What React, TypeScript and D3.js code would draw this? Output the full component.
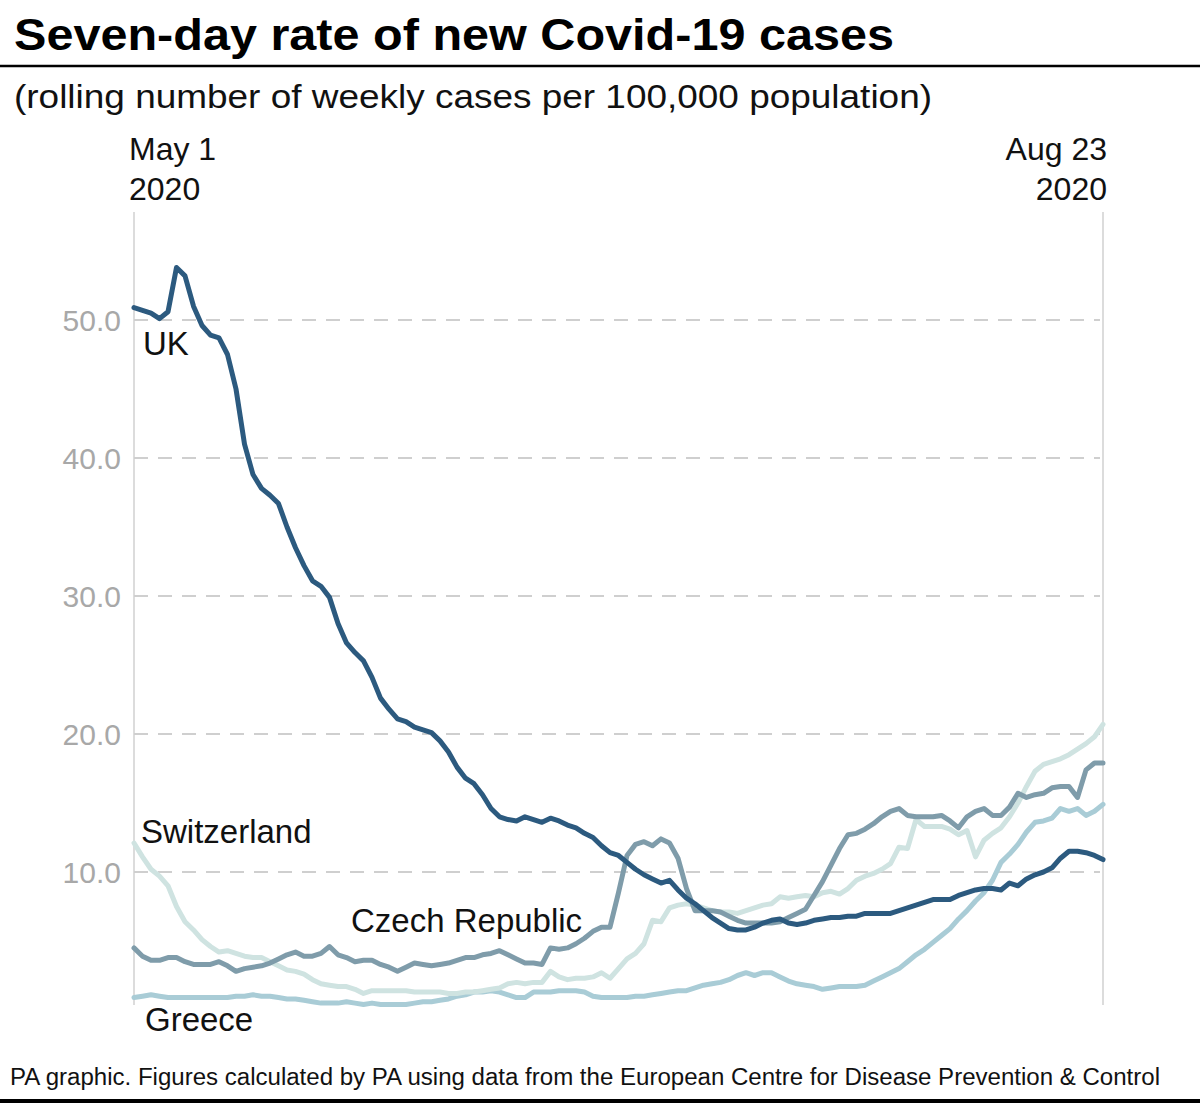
import * as d3 from 'd3';

const startDate = new Date(2020, 4, 1);
const endDate = new Date(2020, 7, 23);

const uk = [
  50.9, 50.7, 50.5, 50.1, 50.6, 53.8, 53.2, 51.0, 49.6, 48.9,
  48.7, 47.5, 45.0, 41.0, 38.8, 37.8, 37.3, 36.7, 35.0, 33.5,
  32.2, 31.1, 30.7, 29.9, 28.0, 26.6, 25.9, 25.3, 24.1, 22.6,
  21.8, 21.1, 20.9, 20.5, 20.3, 20.1, 19.5, 18.7, 17.6, 16.8,
  16.4, 15.6, 14.6, 14.0, 13.8, 13.7, 14.0, 13.8, 13.6, 13.9,
  13.7, 13.4, 13.2, 12.8, 12.5, 11.9, 11.4, 11.2, 10.7, 10.2,
  9.8, 9.5, 9.2, 9.4, 8.7, 8.1, 7.7, 7.2, 6.7, 6.3,
  5.9, 5.8, 5.8, 6.0, 6.3, 6.5, 6.6, 6.3, 6.2, 6.3,
  6.5, 6.6, 6.7, 6.7, 6.8, 6.8, 7.0, 7.0, 7.0, 7.0,
  7.2, 7.4, 7.6, 7.8, 8.0, 8.0, 8.0, 8.3, 8.5, 8.7,
  8.8, 8.8, 8.7, 9.2, 9.0, 9.5, 9.8, 10.0, 10.3, 11.0,
  11.5, 11.5, 11.4, 11.2, 10.9,
];

const czech = [
  4.5, 3.9, 3.6, 3.6, 3.8, 3.8, 3.5, 3.3, 3.3, 3.3,
  3.5, 3.2, 2.8, 3.0, 3.1, 3.2, 3.4, 3.7, 4.0, 4.2,
  3.9, 3.9, 4.1, 4.6, 4.0, 3.8, 3.5, 3.6, 3.6, 3.3,
  3.1, 2.8, 3.1, 3.4, 3.3, 3.2, 3.3, 3.4, 3.6, 3.8,
  3.8, 4.0, 4.1, 4.3, 4.0, 3.7, 3.4, 3.4, 3.3, 4.5,
  4.4, 4.5, 4.8, 5.2, 5.7, 6.0, 6.0, 8.5, 11.2, 12.0,
  12.2, 11.9, 12.4, 12.1, 11.0, 8.8, 7.2, 7.2, 7.2, 7.1,
  6.8, 6.5, 6.3, 6.3, 6.3, 6.3, 6.4, 6.7, 7.0, 7.3,
  8.3, 9.3, 10.5, 11.7, 12.7, 12.8, 13.1, 13.5, 14.0, 14.4,
  14.6, 14.1, 14.0, 14.0, 14.0, 14.1, 13.7, 13.2, 14.0, 14.4,
  14.6, 14.1, 14.1, 14.7, 15.7, 15.4, 15.6, 15.7, 16.1, 16.2,
  16.2, 15.4, 17.4, 17.9, 17.9,
];

const switzerland = [
  12.1, 11.1, 10.2, 9.7, 9.0, 7.5, 6.4, 5.8, 5.1, 4.6,
  4.2, 4.3, 4.1, 3.9, 3.8, 3.8, 3.5, 3.2, 2.9, 2.8,
  2.6, 2.2, 1.9, 1.8, 1.7, 1.7, 1.5, 1.2, 1.4, 1.4,
  1.4, 1.4, 1.4, 1.3, 1.3, 1.3, 1.3, 1.2, 1.2, 1.3,
  1.3, 1.4, 1.5, 1.6, 1.9, 2.0, 1.9, 2.0, 2.0, 2.8,
  2.4, 2.2, 2.3, 2.3, 2.4, 2.7, 2.3, 3.0, 3.7, 4.1,
  4.8, 6.5, 6.4, 7.4, 7.6, 7.7, 7.6, 7.4, 7.2, 7.1,
  7.1, 7.0, 7.2, 7.4, 7.6, 7.7, 8.2, 8.1, 8.2, 8.3,
  8.2, 8.5, 8.6, 8.4, 8.8, 9.4, 9.7, 9.9, 10.2, 10.6,
  11.8, 11.7, 13.8, 13.3, 13.3, 13.3, 13.1, 12.7, 13.0, 11.1,
  12.3, 12.8, 13.2, 14.0, 15.0, 16.2, 17.3, 17.8, 18.0, 18.2,
  18.5, 18.9, 19.3, 19.8, 20.7,
];

const greece = [
  0.9, 1.0, 1.1, 1.0, 0.9, 0.9, 0.9, 0.9, 0.9, 0.9,
  0.9, 0.9, 1.0, 1.0, 1.1, 1.0, 1.0, 0.9, 0.8, 0.8,
  0.7, 0.6, 0.5, 0.5, 0.5, 0.6, 0.5, 0.4, 0.5, 0.4,
  0.4, 0.4, 0.4, 0.5, 0.6, 0.6, 0.7, 0.8, 1.0, 1.1,
  1.3, 1.3, 1.4, 1.3, 1.1, 0.9, 0.9, 1.3, 1.3, 1.3,
  1.4, 1.4, 1.4, 1.3, 1.0, 0.9, 0.9, 0.9, 0.9, 1.0,
  1.0, 1.1, 1.2, 1.3, 1.4, 1.4, 1.6, 1.8, 1.9, 2.0,
  2.2, 2.5, 2.7, 2.5, 2.7, 2.7, 2.4, 2.1, 1.9, 1.8,
  1.7, 1.5, 1.6, 1.7, 1.7, 1.7, 1.8, 2.1, 2.4, 2.7,
  3.0, 3.5, 4.0, 4.4, 4.9, 5.4, 5.9, 6.6, 7.2, 7.9,
  8.5, 9.4, 10.7, 11.3, 12.0, 12.9, 13.6, 13.7, 13.9, 14.6,
  14.4, 14.6, 14.1, 14.4, 14.9,
];

const yTicks = [10, 20, 30, 40, 50];

const series = [
  { name: 'Greece', values: greece, color: '#a9ccd6' },
  { name: 'Switzerland', values: switzerland, color: '#cfe3e1' },
  { name: 'Czech Republic', values: czech, color: '#7f9caa' },
  { name: 'UK', values: uk, color: '#2c5a7f' },
];

const labels = [
  { text: 'UK', x: 143, y: 355 },
  { text: 'Switzerland', x: 141, y: 843 },
  { text: 'Czech Republic', x: 351, y: 932 },
  { text: 'Greece', x: 145, y: 1031 },
];

const font = "'Liberation Sans', Arial, sans-serif";

export default function App() {
  const width = 1200;
  const height = 1106;

  const x = d3.scaleTime().domain([startDate, endDate]).range([134, 1103]);
  const y = d3.scaleLinear().domain([0, 50]).range([1010, 320]);

  const dayOf = (i: number) => d3.timeDay.offset(startDate, i);

  const line = d3.line<number>()
    .x((_, i) => x(dayOf(i)))
    .y(d => y(d));

  return (
    <svg
      width={width}
      height={height}
      style={{ position: 'absolute', left: 0, top: 0, background: '#fff' }}
      fontFamily={font}
    >
      <rect width={width} height={height} fill="#fff" />

      <text x={14} y={50} fontSize={45} fontWeight="bold" fill="#000" textLength={880} lengthAdjust="spacingAndGlyphs">
        Seven-day rate of new Covid-19 cases
      </text>
      <line x1={0} x2={width} y1={66} y2={66} stroke="#000" strokeWidth={2.5} />
      <text x={14} y={108} fontSize={34} fill="#111" textLength={918} lengthAdjust="spacingAndGlyphs">
        (rolling number of weekly cases per 100,000 population)
      </text>

      <text x={129} y={160} fontSize={32} fill="#111">May 1</text>
      <text x={129} y={200} fontSize={32} fill="#111">2020</text>
      <text x={1107} y={160} fontSize={32} fill="#111" textAnchor="end">Aug 23</text>
      <text x={1107} y={200} fontSize={32} fill="#111" textAnchor="end">2020</text>

      <line x1={x(startDate)} x2={x(startDate)} y1={212} y2={1005} stroke="#dcdcdc" strokeWidth={2} />
      <line x1={x(endDate)} x2={x(endDate)} y1={212} y2={1005} stroke="#dcdcdc" strokeWidth={2} />

      {yTicks.map(t => (
        <g key={t}>
          <line
            x1={x(startDate)}
            x2={1100}
            y1={y(t)}
            y2={y(t)}
            stroke="#cfcfcf"
            strokeWidth={2}
            strokeDasharray="14 10"
          />
          <text x={121} y={y(t) + 11} fontSize={30} fill="#a8a8a8" textAnchor="end">
            {t.toFixed(1)}
          </text>
        </g>
      ))}

      {series.map(s => (
        <path
          key={s.name}
          d={line(s.values) || ''}
          fill="none"
          stroke={s.color}
          strokeWidth={5}
          strokeLinejoin="round"
          strokeLinecap="round"
        />
      ))}

      {labels.map(l => (
        <text key={l.text} x={l.x} y={l.y} fontSize={33} fill="#111">
          {l.text}
        </text>
      ))}

      <text x={10} y={1085} fontSize={23} fill="#111" textLength={1150} lengthAdjust="spacingAndGlyphs">
        PA graphic. Figures calculated by PA using data from the European Centre for Disease Prevention &amp; Control
      </text>
      <line x1={0} x2={width} y1={1101} y2={1101} stroke="#000" strokeWidth={4} />
    </svg>
  );
}
